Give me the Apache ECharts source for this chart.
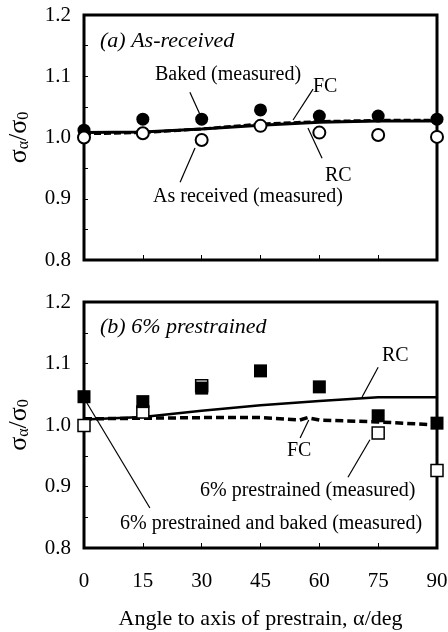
<!DOCTYPE html>
<html><head><meta charset="utf-8">
<script src="https://cdn.jsdelivr.net/npm/echarts@6/dist/echarts.min.js"></script>
<style>html,body{margin:0;padding:0;background:#fff}#c{width:448px;height:632px}</style>
</head><body><div id="c"></div>
<script>
// ---- data ----
var angles = [0, 15, 30, 45, 60, 75, 90];
var yTicks = [0.8, 0.9, 1.0, 1.1, 1.2];
// (a) As-received
var bakedA = [1.012, 1.030, 1.030, 1.045, 1.035, 1.035, 1.030];
var asRecA = [1.000, 1.007, 0.996, 1.019, 1.008, 1.004, 1.001];
var rcA = [1.008, 1.009, 1.014, 1.020, 1.025, 1.027, 1.027];
var fcA = [1.006, 1.008, 1.014, 1.022, 1.026, 1.028, 1.028];
// (b) 6% prestrained
var bakedB = [1.046, 1.038, 1.060, 1.088, 1.062, 1.015, 1.003];
var preAngles = [0, 15, 30, 75, 90];
var preB = [0.999, 1.021, 1.064, 0.987, 0.926];
var rcB = [1.009, 1.013, 1.023, 1.032, 1.039, 1.045, 1.045];
var fcAngles = [0, 15, 30, 45, 55, 57, 60, 75, 90];
var fcB = [1.010, 1.011, 1.012, 1.012, 1.008, 1.012, 1.008, 1.005, 1.000];

var FONT = 'Liberation Serif';
function pairs(xs, ys){ return xs.map(function(x,i){return [x, ys[i]];}); }

var chart = echarts.init(document.getElementById('c'), null, {renderer:'canvas'});

function yAx(idx){
  return {
    gridIndex: idx, type:'value', min:0.8, max:1.2, interval:0.1,
    name:'{a|σ}{s|α}{a|/σ}{s|0}', nameLocation:'middle', nameGap:52, nameRotate:90,
    nameTextStyle:{rich:{a:{fontFamily:FONT,fontSize:26,color:'#000'},s:{fontFamily:FONT,fontSize:16,color:'#000',verticalAlign:'bottom',padding:[10,0,0,0]}}},
    axisLine:{show:false},
    axisTick:{show:true, inside:true, length:4, lineStyle:{color:'#000',width:1}},
    minorTick:{show:true, splitNumber:2, length:4, lineStyle:{color:'#000',width:1}},
    axisLabel:{fontFamily:FONT, fontSize:21, color:'#000', margin:13, formatter:function(v){return v.toFixed(1);}},
    splitLine:{show:false}
  };
}
function xAx(idx, showLabel){
  return {
    gridIndex: idx, type:'value', min:0, max:90, interval:15,
    name: showLabel ? 'Angle to axis of prestrain, α/deg' : '',
    nameLocation:'middle', nameGap:60,
    nameTextStyle:{fontFamily:FONT,fontSize:22,color:'#000'},
    axisLine:{show:false},
    axisTick:{show:true, inside:true, length:5, lineStyle:{color:'#000',width:1}},
    axisLabel:{show:showLabel, fontFamily:FONT, fontSize:21, color:'#000', margin:23},
    splitLine:{show:false}
  };
}
var lineStyleLeader = {color:'#000', width:1.2, type:'solid'};
function leaders(segs){
  return {silent:true, symbol:['none','none'], label:{show:false}, lineStyle:lineStyleLeader,
    emphasis:{disabled:true},
    data: segs.map(function(s){return [{coord:s[0]},{coord:s[1]}];})};
}
var T = '20px "Liberation Serif"', TI = 'italic 22px "Liberation Serif"';

var option = {
  backgroundColor:'#fff',
  animation:false,
  grid:[
    {left:84, right:11, top:15, height:245, show:true, borderColor:'#000', borderWidth:3, backgroundColor:'transparent', containLabel:false, outerBoundsMode:'none'},
    {left:84, right:11, top:302, height:246, show:true, borderColor:'#000', borderWidth:3, backgroundColor:'transparent', containLabel:false, outerBoundsMode:'none'}
  ],
  xAxis:[xAx(0,false), xAx(1,true)],
  yAxis:[yAx(0), yAx(1)],
  series:[
    // panel a
    {type:'line', xAxisIndex:0, yAxisIndex:0, data:pairs(angles, rcA), symbol:'none', lineStyle:{color:'#000',width:3}, z:2,
      markLine: leaders([[[27,1.074],[29.6,1.037]],[[58.4,1.079],[53.3,1.0286]],[[60.7,0.966],[57.1,1.0155]],[[24.5,0.927],[28.3,0.983]]])},
    {type:'line', xAxisIndex:0, yAxisIndex:0, data:pairs(angles, fcA), symbol:'none', lineStyle:{color:'#000',width:3,type:[7,3]}, z:2},
    {type:'scatter', xAxisIndex:0, yAxisIndex:0, data:pairs(angles, bakedA), symbol:'circle', symbolSize:13, itemStyle:{color:'#000',opacity:1}, z:3},
    {type:'scatter', xAxisIndex:0, yAxisIndex:0, data:pairs(angles, asRecA), symbol:'circle', symbolSize:12, itemStyle:{color:'#fff',borderColor:'#000',borderWidth:2,opacity:1}, z:4},
    // panel b
    {type:'line', xAxisIndex:1, yAxisIndex:1, data:pairs(angles, rcB), symbol:'none', lineStyle:{color:'#000',width:2.5}, z:2,
      markLine: leaders([[[75.0,1.094],[70.9,1.0455]],[[57.3,1.008],[55.1,0.979]],[[67.3,0.915],[72.9,0.976]],[[0.25,1.041],[16.8,0.865]]])},
    {type:'line', xAxisIndex:1, yAxisIndex:1, data:pairs(fcAngles, fcB), symbol:'none', lineStyle:{color:'#000',width:3.5,type:[8,4]}, z:2},
    {type:'scatter', xAxisIndex:1, yAxisIndex:1, data:pairs(preAngles, preB), symbol:'rect', symbolSize:12, itemStyle:{color:'#fff',borderColor:'#000',borderWidth:1.5,opacity:1}, z:3},
    {type:'scatter', xAxisIndex:1, yAxisIndex:1, data:pairs(angles, bakedB), symbol:'rect', symbolSize:13, itemStyle:{color:'#000',opacity:1}, z:4}
  ],
  graphic:[
    {type:'text', left:100, top:30, style:{text:'(a) As-received', font:TI, fill:'#000'}},
    {type:'text', left:155, top:65, style:{text:'Baked (measured)', font:T, fill:'#000'}},
    {type:'text', left:313, top:77, style:{text:'FC', font:T, fill:'#000'}},
    {type:'text', left:325, top:166, style:{text:'RC', font:T, fill:'#000'}},
    {type:'text', left:153, top:187, style:{text:'As received (measured)', font:T, fill:'#000'}},
    {type:'text', left:100, top:316, style:{text:'(b) 6% prestrained', font:TI, fill:'#000'}},
    {type:'text', left:382, top:346, style:{text:'RC', font:T, fill:'#000'}},
    {type:'text', left:287, top:441, style:{text:'FC', font:T, fill:'#000'}},
    {type:'text', left:200, top:481, style:{text:'6% prestrained (measured)', font:T, fill:'#000'}},
    {type:'text', left:120, top:514, style:{text:'6% prestrained and baked (measured)', font:T, fill:'#000'}}
  ]
};
chart.setOption(option);
</script>
</body></html>
